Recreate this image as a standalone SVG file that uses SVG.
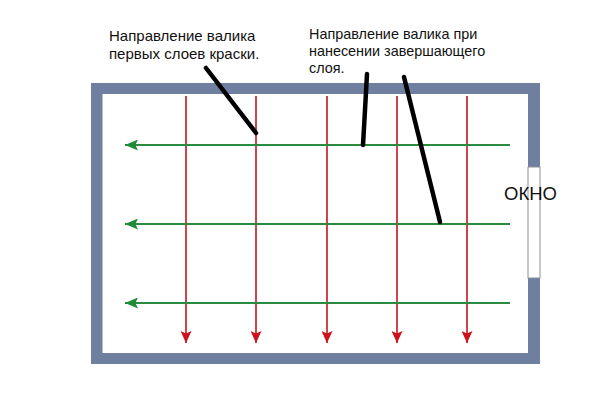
<svg xmlns="http://www.w3.org/2000/svg" width="610" height="406" viewBox="0 0 610 406">
<defs>
<style>
.txt{font-family:"Liberation Sans",Arial,sans-serif;font-size:14px;fill:#111}
.red{stroke:#c3141e;stroke-width:1.6;fill:none}
.green{stroke:#2a8a3e;stroke-width:2;fill:none}
.lead{stroke:#000;stroke-width:4.5;stroke-linecap:round;fill:none}
</style>
<marker id="ar" viewBox="0 0 10 10" preserveAspectRatio="none" refX="10" refY="5" markerWidth="12" markerHeight="11" markerUnits="userSpaceOnUse" orient="auto"><path d="M0,0 L10,5 L0,10 L2,5 Z" fill="#d0101a"/></marker>
<marker id="ag" viewBox="0 0 10 10" preserveAspectRatio="none" refX="10" refY="5" markerWidth="13" markerHeight="11" markerUnits="userSpaceOnUse" orient="auto"><path d="M0,0 L10,5 L0,10 L2,5 Z" fill="#1f8a3a"/></marker>
</defs>
<rect width="610" height="406" fill="#fff"/>
<g id="room">
<path d="M91,83 H540 V364 H91 Z M102.5,94 V353 H528 V94 Z" fill="#6f7fa0" fill-rule="evenodd"/>
<rect id="window" x="528" y="167" width="12" height="111" fill="#fff" stroke="#8a8f9a" stroke-width="1"/>
</g>
<g id="connectors">
<line class="red" x1="186" y1="96" x2="186" y2="343" marker-end="url(#ar)"/>
<line class="red" x1="256" y1="96" x2="256" y2="343" marker-end="url(#ar)"/>
<line class="red" x1="327" y1="96" x2="327" y2="343" marker-end="url(#ar)"/>
<line class="red" x1="397" y1="96" x2="397" y2="343" marker-end="url(#ar)"/>
<line class="red" x1="467" y1="96" x2="467" y2="343" marker-end="url(#ar)"/>
<line class="green" x1="510" y1="145" x2="125" y2="145" marker-end="url(#ag)"/>
<line class="green" x1="510" y1="224" x2="125" y2="224" marker-end="url(#ag)"/>
<line class="green" x1="510" y1="303" x2="125" y2="303" marker-end="url(#ag)"/>
<line class="lead" x1="206" y1="68" x2="256" y2="133"/>
<polyline class="lead" points="367,74 365,110 363,145"/>
<line class="lead" x1="404" y1="77" x2="440" y2="222"/>
</g>
<g id="label1">
<text class="txt" x="109" y="41" style="font-size:15px">Направление валика</text>
<text class="txt" x="109" y="59" style="font-size:15px">первых слоев краски.</text>
</g>
<g id="label2">
<text class="txt" x="309" y="39" style="font-size:14.4px">Направление валика при</text>
<text class="txt" x="309" y="56" style="font-size:14.4px">нанесении завершающего</text>
<text class="txt" x="309" y="73" style="font-size:14.4px">слоя.</text>
</g>
<g id="label3">
<text class="txt" x="504" y="200" style="font-size:18.5px">ОКНО</text>
</g>
</svg>
